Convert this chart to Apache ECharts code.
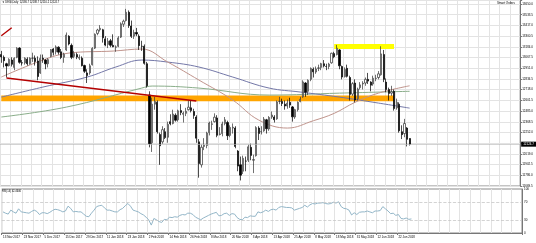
<!DOCTYPE html>
<html><head><meta charset="utf-8">
<script src="https://cdn.jsdelivr.net/npm/echarts@6/dist/echarts.min.js"></script>
<style>html,body{margin:0;padding:0;background:#fff}#c{width:536px;height:243px}</style>
</head><body><div id="c"></div>
<script>
// ---- data ----
const dates = ["13 Nov 2017","14 Nov 2017","15 Nov 2017","16 Nov 2017","17 Nov 2017","20 Nov 2017","21 Nov 2017","22 Nov 2017","23 Nov 2017","24 Nov 2017",
"27 Nov 2017","28 Nov 2017","29 Nov 2017","30 Nov 2017","1 Dec 2017","4 Dec 2017","5 Dec 2017","6 Dec 2017","7 Dec 2017","8 Dec 2017",
"11 Dec 2017","12 Dec 2017","13 Dec 2017","14 Dec 2017","15 Dec 2017","18 Dec 2017","19 Dec 2017","20 Dec 2017","21 Dec 2017","22 Dec 2017",
"27 Dec 2017","28 Dec 2017","29 Dec 2017","2 Jan 2018","3 Jan 2018","4 Jan 2018","5 Jan 2018","8 Jan 2018","9 Jan 2018","10 Jan 2018",
"11 Jan 2018","12 Jan 2018","15 Jan 2018","16 Jan 2018","17 Jan 2018","18 Jan 2018","19 Jan 2018","22 Jan 2018","23 Jan 2018","24 Jan 2018",
"25 Jan 2018","26 Jan 2018","29 Jan 2018","30 Jan 2018","31 Jan 2018","1 Feb 2018","2 Feb 2018","5 Feb 2018","6 Feb 2018","7 Feb 2018",
"8 Feb 2018","9 Feb 2018","12 Feb 2018","13 Feb 2018","14 Feb 2018","15 Feb 2018","16 Feb 2018","19 Feb 2018","20 Feb 2018","21 Feb 2018",
"22 Feb 2018","23 Feb 2018","26 Feb 2018","27 Feb 2018","28 Feb 2018","1 Mar 2018","2 Mar 2018","5 Mar 2018","6 Mar 2018","7 Mar 2018",
"8 Mar 2018","9 Mar 2018","12 Mar 2018","13 Mar 2018","14 Mar 2018","15 Mar 2018","16 Mar 2018","19 Mar 2018","20 Mar 2018","21 Mar 2018",
"22 Mar 2018","23 Mar 2018","26 Mar 2018","27 Mar 2018","28 Mar 2018","29 Mar 2018","3 Apr 2018","4 Apr 2018","5 Apr 2018","6 Apr 2018",
"9 Apr 2018","10 Apr 2018","11 Apr 2018","12 Apr 2018","13 Apr 2018","16 Apr 2018","17 Apr 2018","18 Apr 2018","19 Apr 2018","20 Apr 2018",
"23 Apr 2018","24 Apr 2018","25 Apr 2018","26 Apr 2018","27 Apr 2018","30 Apr 2018","2 May 2018","3 May 2018","4 May 2018","7 May 2018",
"8 May 2018","9 May 2018","10 May 2018","11 May 2018","14 May 2018","15 May 2018","16 May 2018","17 May 2018","18 May 2018","22 May 2018",
"23 May 2018","24 May 2018","25 May 2018","28 May 2018","29 May 2018","30 May 2018","31 May 2018","1 Jun 2018","4 Jun 2018","5 Jun 2018",
"6 Jun 2018","7 Jun 2018","8 Jun 2018","11 Jun 2018","12 Jun 2018","13 Jun 2018","14 Jun 2018","15 Jun 2018","18 Jun 2018","19 Jun 2018",
"20 Jun 2018","21 Jun 2018","22 Jun 2018","25 Jun 2018","26 Jun 2018","27 Jun 2018","28 Jun 2018","29 Jun 2018"];

const opens = [13100,13070,13000,12980,13040,12960,13070,13170,13010,13010,
13050,13000,13060,13060,13030,12900,13060,13040,13000,13080,
13160,13130,13180,13130,13070,13150,13300,13200,13080,13100,
13060,13060,12980,12900,12900,12990,13170,13330,13370,13370,
13270,13210,13250,13200,13180,13190,13290,13430,13470,13560,
13410,13300,13340,13300,13190,13190,13000,12660,12140,12560,
12580,12230,12150,12260,12200,12370,12350,12440,12390,12490,
12450,12460,12500,12520,12480,12420,12150,11900,12100,12110,
12250,12340,12370,12410,12230,12240,12350,12360,12220,12300,
12300,12050,11900,11830,11940,11950,12090,11950,12000,12300,
12260,12270,12390,12290,12420,12420,12400,12590,12590,12560,
12540,12580,12530,12420,12500,12590,12640,12790,12700,12830,
12940,12910,12950,12960,13000,12970,12970,13010,13110,13100,
13150,12970,12860,12950,12850,12670,12790,12620,12740,12780,
12790,12830,12800,12780,12840,12850,12880,13100,12800,12720,
12680,12700,12520,12560,12260,12240,12300,12186.7];
const highs = [13140,13090,13010,13060,13070,13070,13180,13180,13040,13070,
13070,13070,13120,13090,13080,13100,13100,13050,13060,13160,
13170,13200,13190,13160,13120,13340,13310,13220,13140,13120,
13100,13080,12990,12940,13000,13180,13330,13380,13420,13380,
13300,13280,13270,13320,13200,13300,13450,13480,13597,13580,
13470,13370,13390,13320,13250,13210,13020,12700,12630,12640,
12600,12250,12320,12300,12370,12450,12500,12460,12500,12560,
12480,12520,12600,12600,12510,12440,12180,12120,12190,12260,
12370,12380,12460,12440,12310,12370,12420,12380,12330,12350,
12320,12060,11990,12000,11990,12120,12130,12010,12320,12320,
12320,12420,12400,12430,12480,12440,12600,12640,12620,12600,
12610,12630,12540,12510,12590,12640,12820,12800,12830,12960,
12960,12970,12990,13010,13040,13000,13010,13120,13130,13205,
13160,12980,12960,12990,12870,12800,12830,12740,12800,12810,
12850,12900,12810,12870,12880,12920,13190,13150,12840,12740,
12760,12720,12620,12580,12330,12400,12310,12188.7];
const lows = [13010,12960,12850,12970,12970,12930,13060,13000,12980,12990,
12980,12990,13020,12980,12820,12890,13010,12940,12960,13070,
13090,13100,13100,13050,13010,13140,13200,13050,13060,13050,
13040,12970,12900,12790,12880,12980,13160,13310,13350,13230,
13190,13170,13180,13180,13130,13180,13280,13400,13460,13390,
13280,13270,13300,13150,13140,12990,12740,12090,12040,12500,
12240,11900,12130,12180,12140,12330,12340,12370,12370,12440,
12360,12430,12490,12470,12400,12140,11760,11870,12060,12080,
12220,12280,12360,12200,12220,12210,12330,12170,12200,12240,
12080,11830,11730,11800,11830,11930,11950,11810,11990,12170,
12230,12260,12240,12270,12400,12360,12390,12560,12540,12500,
12510,12520,12370,12400,12480,12580,12630,12640,12660,12810,
12850,12890,12920,12930,12960,12930,12940,13000,13060,13090,
12940,12830,12850,12850,12600,12650,12580,12600,12720,12720,
12760,12780,12700,12760,12810,12830,12870,12800,12690,12600,
12650,12490,12500,12250,12180,12200,12100,12110.2];
const closes = [13074,13033,12976,13047,12994,13059,13168,13015,13008,13060,
13000,13060,13061,13024,12861,13058,13048,12999,13045,13153,
13124,13183,13126,13068,13103,13312,13215,13070,13110,13072,
13070,12979,12918,12871,12978,13167,13320,13367,13386,13282,
13203,13245,13201,13184,13183,13281,13434,13463,13560,13415,
13298,13340,13324,13197,13189,13004,12760,12130,12560,12590,
12260,12107,12282,12196,12339,12346,12452,12385,12488,12470,
12461,12483,12527,12490,12436,12190,11913,12091,12114,12245,
12355,12346,12418,12221,12237,12345,12390,12217,12307,12309,
12100,11886,11787,11970,11940,12096,12002,11957,12305,12241,
12261,12397,12293,12415,12442,12391,12585,12590,12567,12540,
12572,12550,12422,12500,12580,12612,12802,12690,12819,12949,
12912,12943,12955,13001,12977,12970,12996,13114,13077,13169,
12977,12855,12938,12863,12666,12783,12605,12724,12770,12787,
12830,12811,12767,12842,12842,12890,13107,12830,12720,12677,
12695,12512,12580,12270,12228,12349,12177,12124.7];

// moving averages: [bar index, value]
const maRed   = [[0,12855],[16,13040],[26,13116],[43,13138],[54,13160],[64,13018],[76,12822],[89,12605],[99,12387],[110,12300],[120,12380],[128,12460],[136,12580],[145,12680],[157,12760]];
const maBlue  = [[0,12637],[16,12746],[33,12855],[44,12964],[54,13040],[64,13018],[76,12964],[89,12855],[103,12735],[115,12692],[130,12637],[145,12572],[157,12517]];
const maGreen = [[0,12420],[25,12528],[54,12735],[58,12757],[76,12735],[103,12659],[130,12680],[157,12700]];

// RSI(14)
const rsi = [48,45,43,52,48,45,55,48,47,46,45,49,52,49,42,46,46,44,47,51,
54,53,51,48,50,61,56,48,49,48,48,43,38,37,45,52,60,62,63,57,
52,52,50,48,48,53,56,62,67,61,52,50,48,44,41,36,30,18,33,30,
26,24,31,30,36,35,37,36,40,42,41,45,45,42,36,33,30,34,37,40,
43,45,47,39,40,44,45,40,44,43,35,31,30,36,35,39,38,38,48,46,
48,52,49,53,54,52,58,60,59,58,58,57,52,54,56,58,63,59,64,67,
66,68,68,69,67,66,67,70,68,71,60,56,55,52,41,46,42,47,48,48,
50,48,46,50,50,51,60,55,50,44,45,40,42,33,32,34,31,32];

// drawn objects: trend lines [startIndex, startPrice, endIndex, endPrice]
const trendLines = [[0,13305,4,13392],[2,12844,75,12594]];
// zones: [startIndex, endIndex, upperPrice, lowerPrice]
const orangeZone = [0,151,12654,12591];
const yellowZone = [128,151,13214,13160];
const lastPrice = 12124.7;
const titleText = '▼ DE30,Daily  12186.7 12188.7 12110.2 12124.7';
const rsiTitle = 'RSI(14) 32.4606';
const rsiLevels = [30,70];
const rsiLabels = [0,30,70,100];

// ---- chart ----
const N = dates.length;
const futureSlots = 42;
const cats = dates.concat(Array.from({length: futureSlots}, (_, k) => '+' + (k + 1)));
const candles = dates.map((d, i) => [opens[i], closes[i], lows[i], highs[i]]);
const FONT = 'Liberation Sans';
const yMin = 11669.5, yStep = 116.5, yMax = 13693.5;
const gridCol = '#e3e3e3';

const chart = echarts.init(document.getElementById('c'), null, {renderer: 'canvas'});
chart.setOption({
  animation: false,
  backgroundColor: '#ffffff',
  textStyle: {fontFamily: FONT},
  title: [
    {text: titleText, left: 2, top: 1, padding: 0, textStyle: {fontSize: 2.6, fontWeight: 'normal', color: '#000', fontFamily: FONT}},
    {text: 'Smart Orders', left: 497, top: 2, padding: 0, textStyle: {fontSize: 3, fontWeight: 'normal', color: '#000', fontFamily: FONT}},
    {text: rsiTitle, left: 2, top: 190, padding: 0, textStyle: {fontSize: 2.6, fontWeight: 'normal', color: '#000', fontFamily: FONT}}
  ],
  grid: [
    {left: 0, right: 14, top: 0, height: 186, show: true, borderColor: '#888', borderWidth: 1, backgroundColor: 'transparent'},
    {left: 0, right: 14, top: 189, height: 44, show: true, borderColor: '#888', borderWidth: 1, backgroundColor: 'transparent'}
  ],
  xAxis: [
    {type: 'category', gridIndex: 0, data: cats, boundaryGap: true,
     axisLine: {show: false}, axisTick: {show: false}, axisLabel: {show: false},
     splitLine: {show: true, interval: (i) => i % 4 === 0, lineStyle: {color: gridCol, width: 1}}},
    {type: 'category', gridIndex: 1, data: cats, boundaryGap: true,
     axisLine: {show: true, lineStyle: {color: '#777', width: 1}},
     axisTick: {show: true, length: 2, interval: (i) => i % 8 === 0 && i < N, lineStyle: {color: '#777'}},
     axisLabel: {show: true, interval: (i) => i % 8 === 0 && i < N, fontSize: 3, color: '#000', align: 'left', margin: 3, hideOverlap: false, fontFamily: FONT},
     splitLine: {show: true, interval: (i) => i % 4 === 0, lineStyle: {color: gridCol, width: 1}}}
  ],
  yAxis: [
    {type: 'value', gridIndex: 0, position: 'right', min: yMin, max: yMax, interval: yStep, scale: true,
     axisLine: {show: true, lineStyle: {color: '#777', width: 1}},
     axisTick: {show: true, length: 2, lineStyle: {color: '#777'}},
     axisLabel: {show: true, fontSize: 3, color: '#000', margin: 2, fontFamily: FONT,
       formatter: (v) => {
         const k = (v - yMin) / yStep;
         if (Math.abs(k - Math.round(k)) > 1e-6) return '';
         if (Math.round(k) === 4) return '';
         return v.toFixed(1);
       }},
     splitLine: {show: true, lineStyle: {color: gridCol, width: 1}}},
    {type: 'value', gridIndex: 1, position: 'right', min: 0, max: 100, interval: 10,
     axisLine: {show: true, lineStyle: {color: '#777', width: 1}},
     axisTick: {show: false},
     axisLabel: {show: true, fontSize: 3, color: '#000', margin: 2, fontFamily: FONT,
       formatter: (v) => rsiLabels.includes(v) ? String(v) : ''},
     splitLine: {show: false}}
  ],
  series: [
    {type: 'line', name: 'MA green', xAxisIndex: 0, yAxisIndex: 0, data: maGreen, smooth: 0.4, connectNulls: true,
     symbol: 'none', lineStyle: {color: '#8aae8a', width: 1}, z: 2, silent: true},
    {type: 'line', name: 'MA blue', xAxisIndex: 0, yAxisIndex: 0, data: maBlue, smooth: 0.4, connectNulls: true,
     symbol: 'none', lineStyle: {color: '#7478a8', width: 1}, z: 2, silent: true},
    {type: 'line', name: 'MA red', xAxisIndex: 0, yAxisIndex: 0, data: maRed, smooth: 0.4, connectNulls: true,
     symbol: 'none', lineStyle: {color: '#c0948c', width: 1}, z: 2, silent: true},
    {type: 'candlestick', name: 'DE30', xAxisIndex: 0, yAxisIndex: 0, data: candles, barWidth: 1.7, z: 3,
     itemStyle: {color: '#ffffff', color0: '#000000', borderColor: '#333333', borderColor0: '#000000', borderWidth: 0.7},
     markLine: {silent: true, symbol: 'none', animation: false,
       lineStyle: {color: '#b5b5b5', width: 0.6, type: 'solid'},
       label: {show: true, position: 'end', distance: 1, formatter: String(lastPrice), color: '#fff', backgroundColor: '#000',
               fontSize: 3, padding: [1, 2], fontFamily: FONT},
       data: [{yAxis: lastPrice}]}},
    {type: 'line', name: 'objects', xAxisIndex: 0, yAxisIndex: 0, data: [], z: 6, silent: true,
     markArea: {silent: true,
       data: [
         [{coord: [orangeZone[0], orangeZone[2]], itemStyle: {color: '#ffa500', opacity: 1}}, {coord: [orangeZone[1], orangeZone[3]]}],
         [{coord: [yellowZone[0], yellowZone[2]], itemStyle: {color: '#ffff00', opacity: 1}}, {coord: [yellowZone[1], yellowZone[3]]}]
       ]},
     markLine: {silent: true, symbol: 'none', label: {show: false},
       lineStyle: {color: '#b40000', width: 1.4, type: 'solid'},
       data: trendLines.map(t => [{coord: [t[0], t[1]]}, {coord: [t[2], t[3]]}])}},
    {type: 'line', name: 'RSI', xAxisIndex: 1, yAxisIndex: 1, data: rsi, symbol: 'none',
     lineStyle: {color: '#93b6c8', width: 1}, z: 3, silent: true,
     markLine: {silent: true, symbol: 'none', label: {show: false},
       lineStyle: {color: '#c8c8c8', width: 0.8, type: 'dashed'},
       data: rsiLevels.map(v => ({yAxis: v}))}}
  ]
});
</script></body></html>
